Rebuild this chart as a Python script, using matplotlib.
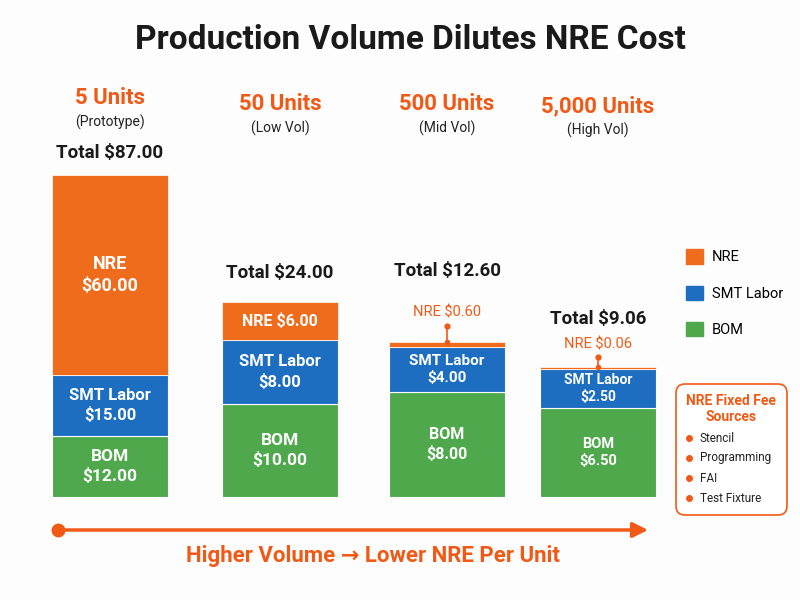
import matplotlib.pyplot as plt
from matplotlib.patches import FancyBboxPatch, Patch

# 数据：各产量档位的单件成本
volumes = ['5 Units', '50 Units', '500 Units', '5,000 Units']
stages = ['(Prototype)', '(Low Vol)', '(Mid Vol)', '(High Vol)']
bom = [12.00, 10.00, 8.00, 6.50]
smt = [15.00, 8.00, 4.00, 2.50]
nre = [60.00, 6.00, 0.60, 0.06]
# 原图柱子是示意高度，不按金额比例，这里照图读出的高度
bom_h = [61, 93, 105, 89]
smt_h = [61, 64, 45, 39]
nre_h = [200, 38, 5, 2.5]
sources = ['Stencil', 'Programming', 'FAI', 'Test Fixture']
totals = [b + s + n for b, s, n in zip(bom, smt, nre)]

C_NRE = '#EF6C1C'
C_SMT = '#1D6EC1'
C_BOM = '#4FA84B'
C_TXT = '#F05A16'

plt.rcParams['font.family'] = ['Roboto', 'DejaVu Sans']

fig = plt.figure(figsize=(8, 6), dpi=100)
fig.patch.set_facecolor('#FDFDFD')
ax = fig.add_axes([0, 0, 1, 1])
ax.set_xlim(0, 800)
ax.set_ylim(-103, 497)
ax.axis('off')

def py(p):
    # 从图片顶部算起的像素 -> 坐标
    return 497 - p

xs = [110, 280, 447, 598]
w = 116

ax.bar(xs, bom_h, w, color=C_BOM, edgecolor='white', linewidth=0.8)
ax.bar(xs, smt_h, w, bottom=bom_h, color=C_SMT, edgecolor='white', linewidth=0.8)
bot2 = [b + s for b, s in zip(bom_h, smt_h)]
ax.bar(xs, nre_h, w, bottom=bot2, color=C_NRE, edgecolor='white', linewidth=0.5)
tops = [b + n for b, n in zip(bot2, nre_h)]

ax.text(410, py(40), 'Production Volume Dilutes NRE Cost', ha='center', va='center',
        fontsize=24, fontweight='bold', color='#1A1A1A')

head_y = [98, 104, 104, 106]
for i in range(4):
    ax.text(xs[i], py(head_y[i]), volumes[i], ha='center', va='center',
            fontsize=16, fontweight='bold', color=C_TXT)
    ax.text(xs[i], py(head_y[i] + 24), stages[i], ha='center', va='center',
            fontsize=10, color='#222222')

# 总价
tot_off = [22, 29, 71, 47]
for i in range(4):
    ax.text(xs[i], tops[i] + tot_off[i], 'Total $%.2f' % totals[i], ha='center', va='center',
            fontsize=13.5, fontweight='bold', color='#1A1A1A')

# 柱内标签
sizes = [12, 12, 11, 10]
for i in range(4):
    ax.text(xs[i], bom_h[i] / 2, 'BOM\n$%.2f' % bom[i], ha='center', va='center',
            fontsize=sizes[i] + 0.5, fontweight='bold', color='white', linespacing=1.35)
    ax.text(xs[i], bom_h[i] + smt_h[i] / 2, 'SMT Labor\n$%.2f' % smt[i], ha='center', va='center',
            fontsize=sizes[i], fontweight='bold', color='white', linespacing=1.35)

ax.text(xs[0], bot2[0] + nre_h[0] / 2, 'NRE\n$%.2f' % nre[0], ha='center', va='center',
        fontsize=13, fontweight='bold', color='white', linespacing=1.35)
ax.text(xs[1], bot2[1] + nre_h[1] / 2, 'NRE $%.2f' % nre[1], ha='center', va='center',
        fontsize=11.5, fontweight='bold', color='white')

# 细的NRE用引线标注
lab_off = [30, 22]
dot_off = [16, 10]
for j, i in enumerate([2, 3]):
    ax.plot([xs[i], xs[i]], [tops[i], tops[i] + dot_off[j]], color=C_TXT, lw=1.2)
    ax.plot(xs[i], tops[i] + dot_off[j], 'o', color=C_TXT, ms=3.5)
    ax.plot(xs[i], tops[i], 'o', color=C_TXT, ms=3)
    ax.text(xs[i], tops[i] + lab_off[j], 'NRE $%.2f' % nre[i], ha='center', va='center',
            fontsize=10.5, color=C_TXT)

# 图例
handles = [Patch(color=C_NRE, label='NRE'), Patch(color=C_SMT, label='SMT Labor'),
           Patch(color=C_BOM, label='BOM')]
fig.legend(handles=handles, loc='upper left', bbox_to_anchor=(679 / 800, 1 - 242 / 600),
           frameon=False, fontsize=10.5, handlelength=1.15, handleheight=1.15,
           labelspacing=1.45, handletextpad=0.6, borderpad=0)

# NRE 固定费用来源框
box = FancyBboxPatch((676, py(515)), 111, 131, boxstyle='round,pad=0,rounding_size=9',
                     facecolor='white', edgecolor=C_TXT, linewidth=1.2)
ax.add_patch(box)
ax.text(731, py(409), 'NRE Fixed Fee\nSources', ha='center', va='center',
        fontsize=10, fontweight='bold', color=C_TXT, linespacing=1.2)
for k, s in enumerate(sources):
    yy = py(438 + 20 * k)
    ax.plot(689, yy, 'o', color=C_TXT, ms=4)
    ax.text(700, yy, s, ha='left', va='center', fontsize=8.5, color='#222222')

# 底部箭头
ax.annotate('', xy=(648, py(530)), xytext=(58, py(530)),
            arrowprops=dict(arrowstyle='-|>,head_length=0.9,head_width=0.45',
                            color=C_TXT, lw=2.5, shrinkA=0, shrinkB=0))
ax.plot(58, py(530), 'o', color=C_TXT, ms=9)
ax.text(373, py(556), 'Higher Volume \u2192 Lower NRE Per Unit', ha='center', va='center',
        fontsize=16, fontweight='bold', color=C_TXT)

fig.savefig('out.png', dpi=100, facecolor=fig.get_facecolor())
